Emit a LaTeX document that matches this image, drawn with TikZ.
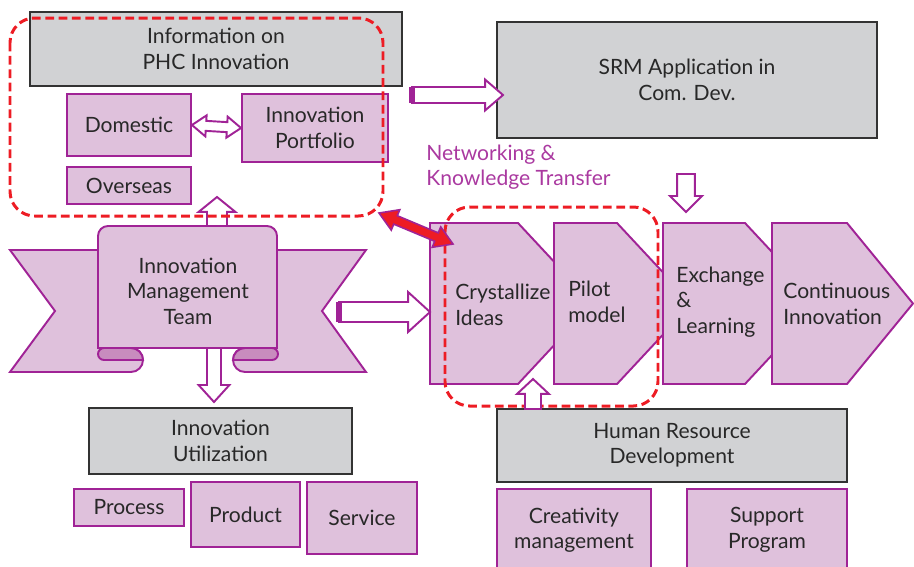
\documentclass[tikz,border=0pt]{standalone}
\usepackage{fontspec}
\setmainfont{Lato}
\usetikzlibrary{calc}
\definecolor{boxpink}{RGB}{223,193,220}
\definecolor{foldpink}{RGB}{200,140,190}
\definecolor{linepurple}{RGB}{160,35,150}
\definecolor{boxgray}{RGB}{209,210,212}
\definecolor{textgray}{RGB}{40,40,40}
\definecolor{dashred}{RGB}{237,28,36}
\tikzset{
  pinkbox/.style={draw=linepurple, fill=boxpink, line width=1.1pt, text=textgray, align=center, inner sep=0pt},
  graybox/.style={draw=black!80, fill=boxgray, line width=1.1pt, text=textgray, align=center, inner sep=0pt},
  banner/.style={draw=linepurple, fill=boxpink, line width=1.1pt},
  fold/.style={draw=linepurple, fill=foldpink, line width=1.1pt},
  chev/.style={draw=linepurple, fill=boxpink, line width=1.1pt},
  hollow/.style={draw=linepurple, fill=white, line width=1.1pt, line join=miter},
  redarrow/.style={draw=linepurple, fill=dashred, line width=0.9pt, line join=miter},
  reddash/.style={draw=dashred, line width=1.7pt, dash pattern=on 5pt off 2.6pt, rounded corners=14pt},
  steptext/.style={text=textgray, align=left, inner sep=0pt, anchor=west},
  nettext/.style={text=linepurple!90, align=left, inner sep=0pt, anchor=west},
}
% block arrow: [style]{from}{to}{half shaft}{half head}{head length}
\newcommand\blockarrow[6][]{%
  \draw[hollow,#1] ($(#2)!#4!90:(#3)$) -- ($(#3)!#6!(#2)!#4!90:(#3)$)
    -- ($(#3)!#6!(#2)!#5!90:(#3)$) -- (#3) -- ($(#3)!#6!(#2)!#5!-90:(#3)$)
    -- ($(#3)!#6!(#2)!#4!-90:(#3)$) -- ($(#2)!#4!-90:(#3)$) -- cycle;}
\newcommand\dblarrow[6][]{%
  \draw[hollow,#1] (#2) -- ($(#2)!#6!(#3)!#5!90:(#3)$) -- ($(#2)!#6!(#3)!#4!90:(#3)$)
    -- ($(#3)!#6!(#2)!#4!90:(#3)$) -- ($(#3)!#6!(#2)!#5!90:(#3)$) -- (#3)
    -- ($(#3)!#6!(#2)!#5!-90:(#3)$) -- ($(#3)!#6!(#2)!#4!-90:(#3)$)
    -- ($(#2)!#6!(#3)!#4!-90:(#3)$) -- ($(#2)!#6!(#3)!#5!-90:(#3)$) -- cycle;}
\begin{document}
\begin{tikzpicture}[x=0.02cm, y=-0.02cm, font=\fontsize{12}{14.5}\selectfont]
  \useasboundingbox (0,0) rectangle (914,566);

  % information on the left
  \node[graybox, minimum width=7.44cm, minimum height=1.48cm] (info) at (216,49) {Information on\\PHC Innovation};
  \node[pinkbox, minimum width=2.48cm, minimum height=1.24cm] (dom) at (129,125) {Domestic};
  \node[pinkbox, minimum width=2.92cm, minimum height=1.36cm] (port) at (315,128) {Innovation\\Portfolio};
  \node[pinkbox, minimum width=2.48cm, minimum height=0.74cm] (over) at (129,185.5) {Overseas};
  \node[graybox, minimum width=7.6cm, minimum height=2.32cm] (srm) at (687,80) {SRM Application in\\Com. Dev.};
  \node[nettext] (net) at (426,167) {Networking \&\\Knowledge Transfer};

  % utilization and human resources
  \node[graybox, minimum width=5.26cm, minimum height=1.32cm] (util) at (220.5,441) {Innovation\\Utilization};
  \node[pinkbox, minimum width=2.2cm, minimum height=0.74cm] (proc) at (129,507.5) {Process};
  \node[pinkbox, minimum width=2.18cm, minimum height=1.3cm] (prod) at (245.5,514.5) {Product};
  \node[pinkbox, minimum width=2.2cm, minimum height=1.44cm] (serv) at (362,518) {Service};
  \node[graybox, minimum width=7.0cm, minimum height=1.46cm] (hrd) at (672,445.5) {Human Resource\\Development};
  \node[pinkbox, minimum width=3.08cm, minimum height=1.64cm] (crea) at (574,530) {Creativity\\management};
  \node[pinkbox, minimum width=3.2cm, minimum height=1.64cm] (supp) at (767,530) {Support\\Program};

  \coordinate (infoR) at (412,95);
  \coordinate (srmL) at (503,95);
  \coordinate (imtT) at (217,232);
  \coordinate (infoB) at (217,197);
  \coordinate (imtB) at (214,344);
  \coordinate (utilT) at (214,402);
  \coordinate (imtR) at (339,312);
  \coordinate (cryL) at (430,312);
  \coordinate (srmB) at (686,174);
  \coordinate (excT) at (686,212);
  \coordinate (hrdT) at (533,409);
  \coordinate (cryB) at (533,379);
  \coordinate (infoC) at (379,213);
  \coordinate (cryC) at (453,244);

  \blockarrow{imtT}{infoB}{5.7pt}{10.5pt}{8.5pt}
  \blockarrow{imtB}{utilT}{4pt}{8.8pt}{9.7pt}

  % management team banner
  \draw[banner] (10,250) -- (131,250) -- (131,348) arc(-90:90:12) -- (10,372) -- (55,311) -- cycle;
  \draw[banner] (366,250) -- (245,250) -- (245,348) arc(270:90:12) -- (366,372) -- (322,311) -- cycle;
  \draw[fold] (104,348) -- (131,348) arc(-90:0:12) -- (104,360) arc(90:270:6) -- cycle;
  \draw[fold] (272,348) -- (245,348) arc(270:180:12) -- (272,360) arc(90:-90:6) -- cycle;
  \draw[banner] (98,348) -- (98,236) arc(180:270:10) -- (267,226) arc(270:360:10) -- (277,348) -- cycle;
  \node[text=textgray, align=center, inner sep=0pt] (imt) at (188,291) {Innovation\\Management\\Team};

  % process chevrons
  \draw[chev] (430,223) -- (518,223) -- (593,303.5) -- (518,384) -- (430,384) -- cycle;
  \draw[chev] (554,223) -- (617,223) -- (692,303.5) -- (617,384) -- (554,384) -- cycle;
  \draw[chev] (663,223) -- (745,223) -- (820,303.5) -- (745,384) -- (663,384) -- cycle;
  \draw[chev] (772,223) -- (847,223) -- (913,303.5) -- (847,384) -- (772,384) -- cycle;
  \node[steptext] (cry) at (455,305) {Crystallize\\Ideas};
  \node[steptext] (pil) at (568,302) {Pilot\\model};
  \node[steptext] (exc) at (676,302) {Exchange\\\&\\Learning};
  \node[steptext] (con) at (783,304) {Continuous\\Innovation};

  % connectors
  \blockarrow{infoR}{srmL}{4.55pt}{8.8pt}{10.2pt}
  \draw[linepurple, line width=3.4pt] ($(infoR)!4.55pt!90:(srmL)$) -- ($(infoR)!4.55pt!-90:(srmL)$);
  \blockarrow{imtR}{cryL}{5.7pt}{11.4pt}{12.5pt}
  \draw[linepurple, line width=3.4pt] ($(imtR)!5.7pt!90:(cryL)$) -- ($(imtR)!5.7pt!-90:(cryL)$);
  \blockarrow{srmB}{excT}{5.1pt}{9.1pt}{9.1pt}
  \dblarrow{dom.east}{port.west}{2.85pt}{6pt}{8pt}

  % dashed groups
  \draw[reddash] (10,18) rectangle (383,216);
  \draw[reddash] (445,207) rectangle (658,406);
  \dblarrow[redarrow]{infoC}{cryC}{2.6pt}{6.3pt}{10.2pt}
  \blockarrow{hrdT}{cryB}{4.55pt}{9.1pt}{8.5pt}
\end{tikzpicture}
\end{document}
